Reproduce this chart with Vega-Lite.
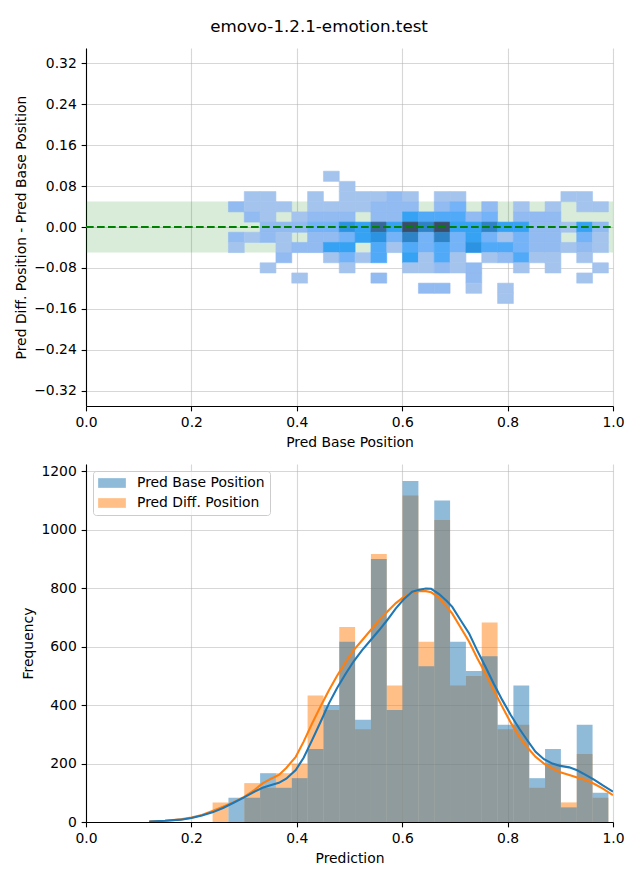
{
  "$schema": "https://vega.github.io/schema/vega-lite/v6.json",
  "padding": {"left": 14, "top": 19, "right": 5, "bottom": 5},
  "title": {"text": "emovo-1.2.1-emotion.test", "fontSize": 16.7, "fontWeight": "normal", "anchor": "middle", "offset": 12, "font": "DejaVu Sans", "color": "black"},
  "spacing": 14,
  "resolve": {"scale": {"color": "independent", "fill": "independent", "stroke": "independent"}, "legend": {"color": "independent", "fill": "independent", "stroke": "independent"}},
  "config": {
    "font": "DejaVu Sans",
    "view": {"stroke": null},
    "axis": {
      "labelFontSize": 13.9, "titleFontSize": 13.9, "titleFontWeight": "normal",
      "labelColor": "black", "titleColor": "black",
      "domainColor": "black", "domainWidth": 1.1,
      "tickColor": "black", "tickWidth": 1.1, "tickSize": 4.86,
      "labelPadding": 4.86, "titlePadding": 5.6,
      "gridColor": "#b0b0b0", "gridOpacity": 0.5, "gridWidth": 1.1,
      "zindex": 1, "labelFlush": false, "labelOverlap": false
    }
  },
  "datasets": {
    "cells": [
      {"base": 0.2844, "diff": 0.0405, "count": 2}, {"base": 0.2844, "diff": -0.0192, "count": 2}, {"base": 0.2844, "diff": -0.0391, "count": 1},
      {"base": 0.3144, "diff": 0.0604, "count": 1}, {"base": 0.3144, "diff": 0.0405, "count": 1}, {"base": 0.3144, "diff": 0.0206, "count": 2}, {"base": 0.3144, "diff": -0.0192, "count": 1},
      {"base": 0.3445, "diff": 0.0604, "count": 1}, {"base": 0.3445, "diff": 0.0405, "count": 1}, {"base": 0.3445, "diff": 0.0206, "count": 1}, {"base": 0.3445, "diff": 0.0007, "count": 2}, {"base": 0.3445, "diff": -0.0192, "count": 2}, {"base": 0.3445, "diff": -0.0789, "count": 1},
      {"base": 0.3745, "diff": 0.0405, "count": 1}, {"base": 0.3745, "diff": 0.0007, "count": 2}, {"base": 0.3745, "diff": -0.0192, "count": 1}, {"base": 0.3745, "diff": -0.0391, "count": 1}, {"base": 0.3745, "diff": -0.059, "count": 2},
      {"base": 0.4046, "diff": 0.0206, "count": 1}, {"base": 0.4046, "diff": 0.0007, "count": 2}, {"base": 0.4046, "diff": -0.0391, "count": 2}, {"base": 0.4046, "diff": -0.0988, "count": 1},
      {"base": 0.4346, "diff": 0.0604, "count": 1}, {"base": 0.4346, "diff": 0.0405, "count": 1}, {"base": 0.4346, "diff": 0.0206, "count": 2}, {"base": 0.4346, "diff": 0.0007, "count": 3}, {"base": 0.4346, "diff": -0.0192, "count": 2}, {"base": 0.4346, "diff": -0.0391, "count": 2},
      {"base": 0.4647, "diff": 0.1002, "count": 1}, {"base": 0.4647, "diff": 0.0405, "count": 1}, {"base": 0.4647, "diff": 0.0206, "count": 2}, {"base": 0.4647, "diff": 0.0007, "count": 3}, {"base": 0.4647, "diff": -0.0192, "count": 2}, {"base": 0.4647, "diff": -0.0391, "count": 5}, {"base": 0.4647, "diff": -0.059, "count": 1},
      {"base": 0.4947, "diff": 0.0803, "count": 1}, {"base": 0.4947, "diff": 0.0604, "count": 1}, {"base": 0.4947, "diff": 0.0405, "count": 1}, {"base": 0.4947, "diff": 0.0206, "count": 2}, {"base": 0.4947, "diff": 0.0007, "count": 6}, {"base": 0.4947, "diff": -0.0192, "count": 3}, {"base": 0.4947, "diff": -0.0391, "count": 5}, {"base": 0.4947, "diff": -0.059, "count": 3}, {"base": 0.4947, "diff": -0.0789, "count": 1},
      {"base": 0.5248, "diff": 0.0604, "count": 1}, {"base": 0.5248, "diff": 0.0405, "count": 1}, {"base": 0.5248, "diff": 0.0007, "count": 5}, {"base": 0.5248, "diff": -0.0192, "count": 5}, {"base": 0.5248, "diff": -0.059, "count": 1},
      {"base": 0.5548, "diff": 0.0604, "count": 1}, {"base": 0.5548, "diff": 0.0405, "count": 2}, {"base": 0.5548, "diff": 0.0206, "count": 2}, {"base": 0.5548, "diff": 0.0007, "count": 8}, {"base": 0.5548, "diff": -0.0192, "count": 6}, {"base": 0.5548, "diff": -0.0391, "count": 4}, {"base": 0.5548, "diff": -0.059, "count": 4}, {"base": 0.5548, "diff": -0.0988, "count": 2},
      {"base": 0.5848, "diff": 0.0604, "count": 2}, {"base": 0.5848, "diff": 0.0405, "count": 2}, {"base": 0.5848, "diff": 0.0206, "count": 2}, {"base": 0.5848, "diff": 0.0007, "count": 5}, {"base": 0.5848, "diff": -0.0192, "count": 3}, {"base": 0.5848, "diff": -0.0391, "count": 1},
      {"base": 0.6149, "diff": 0.0604, "count": 1}, {"base": 0.6149, "diff": 0.0405, "count": 2}, {"base": 0.6149, "diff": 0.0206, "count": 5}, {"base": 0.6149, "diff": 0.0007, "count": 9}, {"base": 0.6149, "diff": -0.0192, "count": 7}, {"base": 0.6149, "diff": -0.0391, "count": 4}, {"base": 0.6149, "diff": -0.059, "count": 5}, {"base": 0.6149, "diff": -0.0789, "count": 1},
      {"base": 0.6449, "diff": 0.0206, "count": 4}, {"base": 0.6449, "diff": 0.0007, "count": 7}, {"base": 0.6449, "diff": -0.0192, "count": 3}, {"base": 0.6449, "diff": -0.0391, "count": 3}, {"base": 0.6449, "diff": -0.059, "count": 1}, {"base": 0.6449, "diff": -0.0789, "count": 1}, {"base": 0.6449, "diff": -0.1187, "count": 2},
      {"base": 0.675, "diff": 0.0604, "count": 1}, {"base": 0.675, "diff": 0.0405, "count": 2}, {"base": 0.675, "diff": 0.0206, "count": 4}, {"base": 0.675, "diff": 0.0007, "count": 9}, {"base": 0.675, "diff": -0.0192, "count": 7}, {"base": 0.675, "diff": -0.0391, "count": 4}, {"base": 0.675, "diff": -0.059, "count": 4}, {"base": 0.675, "diff": -0.0789, "count": 2}, {"base": 0.675, "diff": -0.1187, "count": 2},
      {"base": 0.705, "diff": 0.0604, "count": 1}, {"base": 0.705, "diff": 0.0405, "count": 3}, {"base": 0.705, "diff": 0.0206, "count": 4}, {"base": 0.705, "diff": 0.0007, "count": 5}, {"base": 0.705, "diff": -0.0192, "count": 3}, {"base": 0.705, "diff": -0.0391, "count": 3}, {"base": 0.705, "diff": -0.059, "count": 1}, {"base": 0.705, "diff": -0.0789, "count": 1},
      {"base": 0.7351, "diff": 0.0206, "count": 2}, {"base": 0.7351, "diff": 0.0007, "count": 5}, {"base": 0.7351, "diff": -0.0192, "count": 5}, {"base": 0.7351, "diff": -0.0391, "count": 6}, {"base": 0.7351, "diff": -0.0789, "count": 2}, {"base": 0.7351, "diff": -0.0988, "count": 2}, {"base": 0.7351, "diff": -0.1187, "count": 1},
      {"base": 0.7651, "diff": 0.0405, "count": 2}, {"base": 0.7651, "diff": 0.0206, "count": 3}, {"base": 0.7651, "diff": 0.0007, "count": 7}, {"base": 0.7651, "diff": -0.0192, "count": 3}, {"base": 0.7651, "diff": -0.0391, "count": 4}, {"base": 0.7651, "diff": -0.059, "count": 1},
      {"base": 0.7952, "diff": 0.0007, "count": 5}, {"base": 0.7952, "diff": -0.0192, "count": 1}, {"base": 0.7952, "diff": -0.0391, "count": 4}, {"base": 0.7952, "diff": -0.059, "count": 2}, {"base": 0.7952, "diff": -0.1187, "count": 1}, {"base": 0.7952, "diff": -0.1386, "count": 1},
      {"base": 0.8252, "diff": 0.0405, "count": 1}, {"base": 0.8252, "diff": 0.0206, "count": 2}, {"base": 0.8252, "diff": 0.0007, "count": 5}, {"base": 0.8252, "diff": -0.0192, "count": 3}, {"base": 0.8252, "diff": -0.0391, "count": 3}, {"base": 0.8252, "diff": -0.059, "count": 4}, {"base": 0.8252, "diff": -0.0789, "count": 1},
      {"base": 0.8553, "diff": 0.0206, "count": 2}, {"base": 0.8553, "diff": 0.0007, "count": 2}, {"base": 0.8553, "diff": -0.0192, "count": 2}, {"base": 0.8553, "diff": -0.0391, "count": 2}, {"base": 0.8553, "diff": -0.059, "count": 1},
      {"base": 0.8853, "diff": 0.0405, "count": 1}, {"base": 0.8853, "diff": 0.0206, "count": 2}, {"base": 0.8853, "diff": 0.0007, "count": 2}, {"base": 0.8853, "diff": -0.0192, "count": 2}, {"base": 0.8853, "diff": -0.0391, "count": 2}, {"base": 0.8853, "diff": -0.059, "count": 1}, {"base": 0.8853, "diff": -0.0789, "count": 1},
      {"base": 0.9153, "diff": 0.0604, "count": 1}, {"base": 0.9153, "diff": 0.0007, "count": 1}, {"base": 0.9153, "diff": -0.0391, "count": 1},
      {"base": 0.9454, "diff": 0.0604, "count": 1}, {"base": 0.9454, "diff": 0.0405, "count": 1}, {"base": 0.9454, "diff": 0.0007, "count": 5}, {"base": 0.9454, "diff": -0.0192, "count": 3}, {"base": 0.9454, "diff": -0.0391, "count": 2}, {"base": 0.9454, "diff": -0.059, "count": 1}, {"base": 0.9454, "diff": -0.0988, "count": 1},
      {"base": 0.9754, "diff": 0.0405, "count": 1}, {"base": 0.9754, "diff": 0.0007, "count": 2}, {"base": 0.9754, "diff": -0.0192, "count": 1}, {"base": 0.9754, "diff": -0.0391, "count": 1}, {"base": 0.9754, "diff": -0.0789, "count": 1}
    ],
    "hist": [
      {"pred": 0.2543, "series": "Pred Diff. Position", "freq": 67},
      {"pred": 0.3144, "series": "Pred Diff. Position", "freq": 133},
      {"pred": 0.3445, "series": "Pred Diff. Position", "freq": 117},
      {"pred": 0.3745, "series": "Pred Diff. Position", "freq": 167},
      {"pred": 0.4046, "series": "Pred Diff. Position", "freq": 200},
      {"pred": 0.4346, "series": "Pred Diff. Position", "freq": 433},
      {"pred": 0.4647, "series": "Pred Diff. Position", "freq": 383},
      {"pred": 0.4947, "series": "Pred Diff. Position", "freq": 667},
      {"pred": 0.5248, "series": "Pred Diff. Position", "freq": 317},
      {"pred": 0.5548, "series": "Pred Diff. Position", "freq": 917},
      {"pred": 0.5848, "series": "Pred Diff. Position", "freq": 467},
      {"pred": 0.6149, "series": "Pred Diff. Position", "freq": 1117},
      {"pred": 0.6449, "series": "Pred Diff. Position", "freq": 617},
      {"pred": 0.675, "series": "Pred Diff. Position", "freq": 1033},
      {"pred": 0.705, "series": "Pred Diff. Position", "freq": 467},
      {"pred": 0.7351, "series": "Pred Diff. Position", "freq": 500},
      {"pred": 0.7651, "series": "Pred Diff. Position", "freq": 683},
      {"pred": 0.7952, "series": "Pred Diff. Position", "freq": 317},
      {"pred": 0.8252, "series": "Pred Diff. Position", "freq": 333},
      {"pred": 0.8553, "series": "Pred Diff. Position", "freq": 117},
      {"pred": 0.8853, "series": "Pred Diff. Position", "freq": 200},
      {"pred": 0.9153, "series": "Pred Diff. Position", "freq": 67},
      {"pred": 0.9454, "series": "Pred Diff. Position", "freq": 233},
      {"pred": 0.9754, "series": "Pred Diff. Position", "freq": 83},
      {"pred": 0.2844, "series": "Pred Base Position", "freq": 83},
      {"pred": 0.3144, "series": "Pred Base Position", "freq": 83},
      {"pred": 0.3445, "series": "Pred Base Position", "freq": 167},
      {"pred": 0.3745, "series": "Pred Base Position", "freq": 117},
      {"pred": 0.4046, "series": "Pred Base Position", "freq": 150},
      {"pred": 0.4346, "series": "Pred Base Position", "freq": 250},
      {"pred": 0.4647, "series": "Pred Base Position", "freq": 400},
      {"pred": 0.4947, "series": "Pred Base Position", "freq": 617},
      {"pred": 0.5248, "series": "Pred Base Position", "freq": 350},
      {"pred": 0.5548, "series": "Pred Base Position", "freq": 900},
      {"pred": 0.5848, "series": "Pred Base Position", "freq": 383},
      {"pred": 0.6149, "series": "Pred Base Position", "freq": 1167},
      {"pred": 0.6449, "series": "Pred Base Position", "freq": 533},
      {"pred": 0.675, "series": "Pred Base Position", "freq": 1100},
      {"pred": 0.705, "series": "Pred Base Position", "freq": 617},
      {"pred": 0.7351, "series": "Pred Base Position", "freq": 517},
      {"pred": 0.7651, "series": "Pred Base Position", "freq": 567},
      {"pred": 0.7952, "series": "Pred Base Position", "freq": 333},
      {"pred": 0.8252, "series": "Pred Base Position", "freq": 467},
      {"pred": 0.8553, "series": "Pred Base Position", "freq": 150},
      {"pred": 0.8853, "series": "Pred Base Position", "freq": 250},
      {"pred": 0.9153, "series": "Pred Base Position", "freq": 50},
      {"pred": 0.9454, "series": "Pred Base Position", "freq": 333},
      {"pred": 0.9754, "series": "Pred Base Position", "freq": 100}
    ],
    "kde": [
      {"pred": 0.12, "series": "Pred Base Position", "freq": 2},
      {"pred": 0.15, "series": "Pred Base Position", "freq": 4},
      {"pred": 0.18, "series": "Pred Base Position", "freq": 8},
      {"pred": 0.20, "series": "Pred Base Position", "freq": 14},
      {"pred": 0.22, "series": "Pred Base Position", "freq": 22},
      {"pred": 0.24, "series": "Pred Base Position", "freq": 33},
      {"pred": 0.26, "series": "Pred Base Position", "freq": 48},
      {"pred": 0.28, "series": "Pred Base Position", "freq": 66},
      {"pred": 0.30, "series": "Pred Base Position", "freq": 84},
      {"pred": 0.32, "series": "Pred Base Position", "freq": 104},
      {"pred": 0.335, "series": "Pred Base Position", "freq": 117},
      {"pred": 0.35, "series": "Pred Base Position", "freq": 126},
      {"pred": 0.366, "series": "Pred Base Position", "freq": 134},
      {"pred": 0.38, "series": "Pred Base Position", "freq": 148},
      {"pred": 0.398, "series": "Pred Base Position", "freq": 178},
      {"pred": 0.413, "series": "Pred Base Position", "freq": 220},
      {"pred": 0.429, "series": "Pred Base Position", "freq": 280},
      {"pred": 0.445, "series": "Pred Base Position", "freq": 342},
      {"pred": 0.461, "series": "Pred Base Position", "freq": 406},
      {"pred": 0.477, "series": "Pred Base Position", "freq": 460},
      {"pred": 0.493, "series": "Pred Base Position", "freq": 508},
      {"pred": 0.508, "series": "Pred Base Position", "freq": 550},
      {"pred": 0.524, "series": "Pred Base Position", "freq": 588},
      {"pred": 0.540, "series": "Pred Base Position", "freq": 622},
      {"pred": 0.556, "series": "Pred Base Position", "freq": 656},
      {"pred": 0.572, "series": "Pred Base Position", "freq": 692},
      {"pred": 0.588, "series": "Pred Base Position", "freq": 731},
      {"pred": 0.603, "series": "Pred Base Position", "freq": 762},
      {"pred": 0.619, "series": "Pred Base Position", "freq": 788},
      {"pred": 0.632, "series": "Pred Base Position", "freq": 795},
      {"pred": 0.645, "series": "Pred Base Position", "freq": 799},
      {"pred": 0.655, "series": "Pred Base Position", "freq": 798},
      {"pred": 0.67, "series": "Pred Base Position", "freq": 780},
      {"pred": 0.685, "series": "Pred Base Position", "freq": 755},
      {"pred": 0.695, "series": "Pred Base Position", "freq": 736},
      {"pred": 0.71, "series": "Pred Base Position", "freq": 693},
      {"pred": 0.727, "series": "Pred Base Position", "freq": 645},
      {"pred": 0.742, "series": "Pred Base Position", "freq": 588},
      {"pred": 0.758, "series": "Pred Base Position", "freq": 531},
      {"pred": 0.774, "series": "Pred Base Position", "freq": 472},
      {"pred": 0.790, "series": "Pred Base Position", "freq": 417},
      {"pred": 0.806, "series": "Pred Base Position", "freq": 366},
      {"pred": 0.822, "series": "Pred Base Position", "freq": 320},
      {"pred": 0.838, "series": "Pred Base Position", "freq": 278},
      {"pred": 0.853, "series": "Pred Base Position", "freq": 240},
      {"pred": 0.869, "series": "Pred Base Position", "freq": 215},
      {"pred": 0.885, "series": "Pred Base Position", "freq": 200},
      {"pred": 0.90, "series": "Pred Base Position", "freq": 192},
      {"pred": 0.917, "series": "Pred Base Position", "freq": 187},
      {"pred": 0.932, "series": "Pred Base Position", "freq": 177},
      {"pred": 0.948, "series": "Pred Base Position", "freq": 161},
      {"pred": 0.964, "series": "Pred Base Position", "freq": 145},
      {"pred": 0.980, "series": "Pred Base Position", "freq": 126},
      {"pred": 1.0, "series": "Pred Base Position", "freq": 104},
      {"pred": 0.12, "series": "Pred Diff. Position", "freq": 2},
      {"pred": 0.15, "series": "Pred Diff. Position", "freq": 4},
      {"pred": 0.18, "series": "Pred Diff. Position", "freq": 9},
      {"pred": 0.20, "series": "Pred Diff. Position", "freq": 15},
      {"pred": 0.22, "series": "Pred Diff. Position", "freq": 24},
      {"pred": 0.24, "series": "Pred Diff. Position", "freq": 38},
      {"pred": 0.26, "series": "Pred Diff. Position", "freq": 52},
      {"pred": 0.28, "series": "Pred Diff. Position", "freq": 68},
      {"pred": 0.30, "series": "Pred Diff. Position", "freq": 86},
      {"pred": 0.32, "series": "Pred Diff. Position", "freq": 110},
      {"pred": 0.335, "series": "Pred Diff. Position", "freq": 132},
      {"pred": 0.35, "series": "Pred Diff. Position", "freq": 147},
      {"pred": 0.366, "series": "Pred Diff. Position", "freq": 161},
      {"pred": 0.38, "series": "Pred Diff. Position", "freq": 185},
      {"pred": 0.398, "series": "Pred Diff. Position", "freq": 223},
      {"pred": 0.413, "series": "Pred Diff. Position", "freq": 275},
      {"pred": 0.429, "series": "Pred Diff. Position", "freq": 337},
      {"pred": 0.445, "series": "Pred Diff. Position", "freq": 395},
      {"pred": 0.461, "series": "Pred Diff. Position", "freq": 451},
      {"pred": 0.477, "series": "Pred Diff. Position", "freq": 502},
      {"pred": 0.493, "series": "Pred Diff. Position", "freq": 548},
      {"pred": 0.508, "series": "Pred Diff. Position", "freq": 588},
      {"pred": 0.524, "series": "Pred Diff. Position", "freq": 622},
      {"pred": 0.540, "series": "Pred Diff. Position", "freq": 656},
      {"pred": 0.556, "series": "Pred Diff. Position", "freq": 690},
      {"pred": 0.572, "series": "Pred Diff. Position", "freq": 720},
      {"pred": 0.588, "series": "Pred Diff. Position", "freq": 749},
      {"pred": 0.603, "series": "Pred Diff. Position", "freq": 770},
      {"pred": 0.619, "series": "Pred Diff. Position", "freq": 785},
      {"pred": 0.632, "series": "Pred Diff. Position", "freq": 790},
      {"pred": 0.645, "series": "Pred Diff. Position", "freq": 790},
      {"pred": 0.655, "series": "Pred Diff. Position", "freq": 786},
      {"pred": 0.67, "series": "Pred Diff. Position", "freq": 768},
      {"pred": 0.685, "series": "Pred Diff. Position", "freq": 735},
      {"pred": 0.695, "series": "Pred Diff. Position", "freq": 713},
      {"pred": 0.71, "series": "Pred Diff. Position", "freq": 668},
      {"pred": 0.727, "series": "Pred Diff. Position", "freq": 617},
      {"pred": 0.742, "series": "Pred Diff. Position", "freq": 562},
      {"pred": 0.758, "series": "Pred Diff. Position", "freq": 508},
      {"pred": 0.774, "series": "Pred Diff. Position", "freq": 450},
      {"pred": 0.790, "series": "Pred Diff. Position", "freq": 394},
      {"pred": 0.806, "series": "Pred Diff. Position", "freq": 340},
      {"pred": 0.822, "series": "Pred Diff. Position", "freq": 292},
      {"pred": 0.838, "series": "Pred Diff. Position", "freq": 254},
      {"pred": 0.853, "series": "Pred Diff. Position", "freq": 223},
      {"pred": 0.869, "series": "Pred Diff. Position", "freq": 200},
      {"pred": 0.885, "series": "Pred Diff. Position", "freq": 183},
      {"pred": 0.90, "series": "Pred Diff. Position", "freq": 170},
      {"pred": 0.917, "series": "Pred Diff. Position", "freq": 161},
      {"pred": 0.932, "series": "Pred Diff. Position", "freq": 152},
      {"pred": 0.948, "series": "Pred Diff. Position", "freq": 144},
      {"pred": 0.964, "series": "Pred Diff. Position", "freq": 131},
      {"pred": 0.980, "series": "Pred Diff. Position", "freq": 115},
      {"pred": 1.0, "series": "Pred Diff. Position", "freq": 92}
    ]
  },
  "vconcat": [
    {
      "width": 527,
      "height": 358,
      "layer": [
        {
          "data": {"values": [{"band": "tolerance"}]},
          "mark": {"type": "rect", "color": "green", "opacity": 0.15},
          "encoding": {
            "x": {"datum": 0, "type": "quantitative"},
            "x2": {"datum": 1},
            "y": {"datum": -0.05, "type": "quantitative"},
            "y2": {"datum": 0.05}
          }
        },
        {
          "data": {"name": "cells"},
          "mark": {"type": "rect", "binSpacing": 0, "strokeWidth": 0.6},
          "encoding": {
            "x": {"field": "base", "type": "quantitative", "bin": {"extent": [0.2393, 0.9903], "step": 0.03004, "nice": false},
                  "scale": {"domain": [0, 1], "nice": false, "zero": false},
                  "axis": {"values": [0, 0.2, 0.4, 0.6, 0.8, 1.0], "format": ".1f", "title": "Pred Base Position", "grid": true}},
            "y": {"field": "diff", "type": "quantitative", "bin": {"extent": [-0.1486, 0.1101], "step": 0.0199, "nice": false},
                  "scale": {"domain": [-0.35, 0.35], "nice": false, "zero": false},
                  "axis": {"values": [-0.32, -0.24, -0.16, -0.08, 0, 0.08, 0.16, 0.24, 0.32], "format": ".2f", "title": "Pred Diff. Position - Pred Base Position", "grid": true}},
            "fill": {"field": "count", "type": "quantitative",
                      "scale": {"domain": [1, 2, 3, 4, 5, 6, 7, 8, 9], "range": ["#a4c4ee", "#92bbf2", "#74b3f7", "#50aaf8", "#36a2f3", "#2c93e3", "#2e82c6", "#38679a", "#3a4d68"]},
                      "legend": null},
            "stroke": {"field": "count", "type": "quantitative",
                      "scale": {"domain": [1, 2, 3, 4, 5, 6, 7, 8, 9], "range": ["#a4c4ee", "#92bbf2", "#74b3f7", "#50aaf8", "#36a2f3", "#2c93e3", "#2e82c6", "#38679a", "#3a4d68"]},
                      "legend": null}
          }
        },
        {
          "data": {"values": [{"line": "zero"}]},
          "mark": {"type": "rule", "color": "green", "strokeWidth": 2.08, "strokeDash": [7.7, 3.3]},
          "encoding": {
            "x": {"datum": 0, "type": "quantitative"},
            "x2": {"datum": 1},
            "y": {"datum": 0, "type": "quantitative"}
          }
        }
      ]
    },
    {
      "width": 527,
      "height": 358,
      "layer": [
        {
          "data": {"name": "hist"},
          "transform": [{"filter": "datum.series == 'Pred Diff. Position'"}],
          "mark": {"type": "bar", "opacity": 0.5, "binSpacing": 0},
          "encoding": {
            "x": {"field": "pred", "type": "quantitative", "bin": {"extent": [0.2393, 0.9903], "step": 0.03004, "nice": false},
                  "scale": {"domain": [0, 1], "nice": false, "zero": false},
                  "axis": {"values": [0, 0.2, 0.4, 0.6, 0.8, 1.0], "format": ".1f", "title": "Prediction", "grid": true}},
            "y": {"field": "freq", "type": "quantitative", "stack": null,
                  "scale": {"domain": [0, 1225], "nice": false},
                  "axis": {"values": [0, 200, 400, 600, 800, 1000, 1200], "format": "d", "title": "Frequency", "grid": true}},
            "color": {"field": "series", "type": "nominal",
                      "scale": {"domain": ["Pred Base Position", "Pred Diff. Position"], "range": ["#1f77b4", "#ff7f0e"]},
                      "legend": {"title": null, "orient": "none", "legendX": 7, "legendY": 7,
                                 "symbolType": "M-2,-0.7H2V0.7H-2Z", "symbolSize": 192, "symbolOpacity": 0.5, "symbolStrokeWidth": 0,
                                 "symbolOffset": 7, "labelOffset": 18, "labelFontSize": 13.9, "labelColor": "black",
                                 "fillColor": "rgba(255,255,255,0.8)", "strokeColor": "#cccccc", "cornerRadius": 3,
                                 "padding": 5, "rowPadding": 6}}
          }
        },
        {
          "data": {"name": "hist"},
          "transform": [{"filter": "datum.series == 'Pred Base Position'"}],
          "mark": {"type": "bar", "opacity": 0.5, "binSpacing": 0},
          "encoding": {
            "x": {"field": "pred", "type": "quantitative", "bin": {"extent": [0.2393, 0.9903], "step": 0.03004, "nice": false}, "title": "Prediction"},
            "y": {"field": "freq", "type": "quantitative", "stack": null, "title": "Frequency"},
            "color": {"field": "series", "type": "nominal"}
          }
        },
        {
          "data": {"name": "kde"},
          "transform": [{"filter": "datum.series == 'Pred Diff. Position'"}],
          "mark": {"type": "line", "color": "#ff7f0e", "strokeWidth": 2.08, "clip": true},
          "encoding": {
            "x": {"field": "pred", "type": "quantitative", "title": "Prediction"},
            "y": {"field": "freq", "type": "quantitative", "title": "Frequency"}
          }
        },
        {
          "data": {"name": "kde"},
          "transform": [{"filter": "datum.series == 'Pred Base Position'"}],
          "mark": {"type": "line", "color": "#1f77b4", "strokeWidth": 2.08, "clip": true},
          "encoding": {
            "x": {"field": "pred", "type": "quantitative", "title": "Prediction"},
            "y": {"field": "freq", "type": "quantitative", "title": "Frequency"}
          }
        }
      ]
    }
  ]
}
